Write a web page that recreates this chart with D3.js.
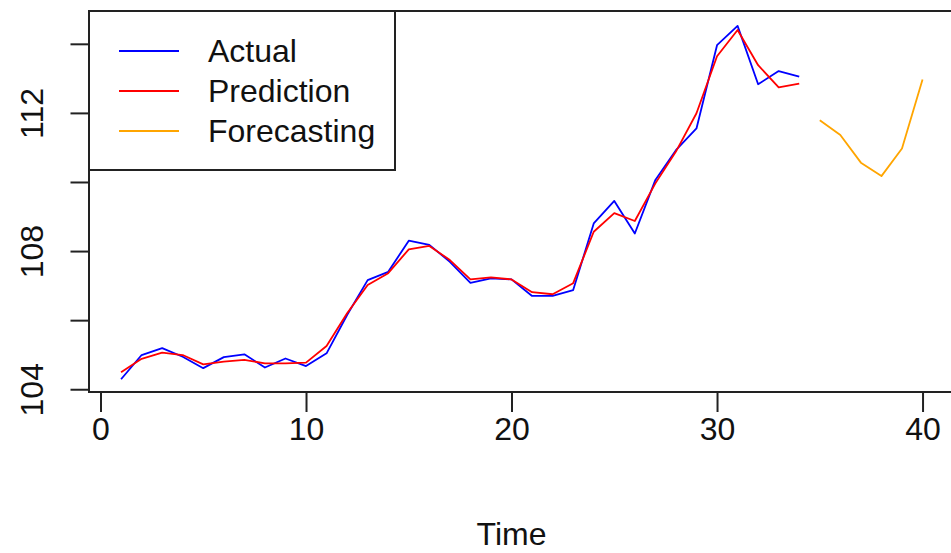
<!DOCTYPE html>
<html>
<head>
<meta charset="utf-8">
<script src="https://cdn.jsdelivr.net/npm/d3@7"></script>
<style>
  html, body { margin: 0; padding: 0; background: #fff; }
  svg { display: block; }
  text { font-family: "Liberation Sans", Arial, sans-serif; fill: #111; }
</style>
</head>
<body>
<svg id="chart" width="951" height="553"></svg>
<script>
// Time index for the observed window and the forecast horizon
const timeObserved = d3.range(1, 35);
const timeForecast = d3.range(35, 41);

// Observed values
const actual = [
  104.29, 104.99, 105.19, 104.94, 104.61, 104.93, 105.01, 104.63, 104.89, 104.67,
  105.04, 106.15, 107.16, 107.40, 108.30, 108.18, 107.69, 107.08, 107.21, 107.18,
  106.70, 106.70, 106.87, 108.80, 109.45, 108.51, 110.06, 110.92, 111.55, 113.96,
  114.52, 112.83, 113.21, 113.05
];

// Fitted values from the model
const prediction = [
  104.49, 104.88, 105.06, 104.99, 104.72, 104.80, 104.85, 104.75, 104.75, 104.77,
  105.25, 106.20, 107.02, 107.36, 108.05, 108.15, 107.74, 107.18, 107.24, 107.18,
  106.81, 106.75, 107.07, 108.56, 109.10, 108.87, 109.96, 110.88, 111.99, 113.64,
  114.40, 113.38, 112.74, 112.85
];

// Out-of-sample forecast
const forecast = [111.79, 111.36, 110.56, 110.17, 110.97, 112.97];

const xTicks = [0, 10, 20, 30, 40];
const yTicks = [104, 106, 108, 110, 112, 114];
const yTickLabels = ["104", "", "108", "", "112", ""];

const legendItems = [
  { label: "Actual", color: "#0000ff" },
  { label: "Prediction", color: "#ff0000" },
  { label: "Forecasting", color: "#ffa500" }
];

const svg = d3.select("#chart");

// Plot region; x limits padded by 4% of the data range on each side
const tMin = 1, tMax = 40, pad = (tMax - tMin) * 0.04;
const x = d3.scaleLinear().domain([tMin - pad, tMax + pad]).range([89, 954.6]);
const y = d3.scaleLinear().domain([103.92, 114.95]).range([392, 11]);

const line = d3.line().x(d => x(d[0])).y(d => y(d[1]));

const g = svg.append("g");

// Series
const series = [
  { t: timeObserved, v: actual, color: "#0000ff" },
  { t: timeObserved, v: prediction, color: "#ff0000" },
  { t: timeForecast, v: forecast, color: "#ffa500" }
];
series.forEach(s => {
  g.append("path")
    .datum(s.t.map((t, i) => [t, s.v[i]]))
    .attr("fill", "none")
    .attr("stroke", s.color)
    .attr("stroke-width", 1.8)
    .attr("stroke-linejoin", "round")
    .attr("d", line);
});

// Plot frame
g.append("rect")
  .attr("x", 89).attr("y", 11)
  .attr("width", 954.6 - 89).attr("height", 392 - 11)
  .attr("fill", "none").attr("stroke", "#222").attr("stroke-width", 2);

// X axis
const xAxis = d3.axisBottom(x).tickValues(xTicks).tickSize(20).tickPadding(5)
  .tickFormat(d3.format("d"));
const gx = svg.append("g").attr("transform", "translate(0,392)").call(xAxis);
gx.select(".domain").remove();
gx.selectAll(".tick line").attr("stroke", "#222").attr("stroke-width", 2);
gx.selectAll(".tick text").attr("font-size", 32).attr("fill", "#111")
  .attr("font-family", "Liberation Sans, Arial, sans-serif");

// Y axis with labels parallel to the axis
const yAxis = d3.axisLeft(y).tickValues(yTicks).tickSize(18.5)
  .tickFormat((d, i) => yTickLabels[i]);
const gy = svg.append("g").attr("transform", "translate(89,0)").call(yAxis);
gy.select(".domain").remove();
gy.selectAll(".tick line").attr("stroke", "#222").attr("stroke-width", 2);
gy.selectAll(".tick text")
  .attr("font-size", 32).attr("fill", "#111")
  .attr("font-family", "Liberation Sans, Arial, sans-serif")
  .attr("x", null).attr("dy", null)
  .attr("text-anchor", "middle")
  .attr("transform", "translate(-46,0) rotate(-90)");

// Axis title
svg.append("text")
  .attr("x", x(20)).attr("y", 545)
  .attr("text-anchor", "middle")
  .attr("font-size", 32)
  .text("Time");

// Legend
const legend = svg.append("g");
legend.append("rect")
  .attr("x", 89).attr("y", 11)
  .attr("width", 395 - 89).attr("height", 170 - 11)
  .attr("fill", "#fff").attr("stroke", "#222").attr("stroke-width", 2);
const rowY = d3.scalePoint().domain(legendItems.map(d => d.label)).range([51, 131]);
legendItems.forEach(item => {
  legend.append("line")
    .attr("x1", 119).attr("x2", 179)
    .attr("y1", rowY(item.label)).attr("y2", rowY(item.label))
    .attr("stroke", item.color).attr("stroke-width", 2);
  legend.append("text")
    .attr("x", 208).attr("y", rowY(item.label))
    .attr("dy", "0.35em")
    .attr("font-size", 32)
    .text(item.label);
});
</script>
</body>
</html>
